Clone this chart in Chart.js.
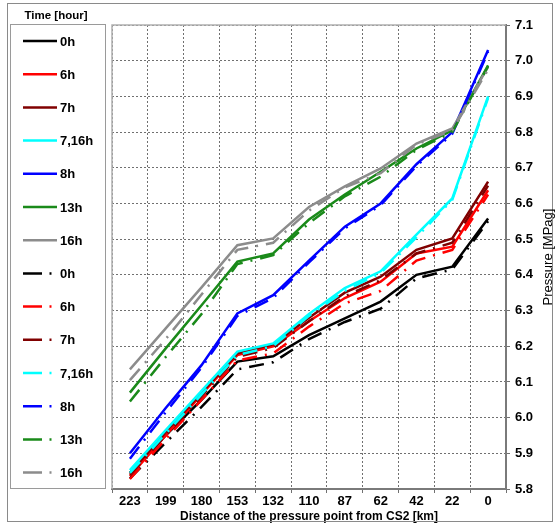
<!DOCTYPE html>
<html>
<head>
<meta charset="utf-8">
<script src="https://cdn.jsdelivr.net/npm/chart.js@4.4.1/dist/chart.umd.min.js"></script>
<style>
  html, body { margin: 0; padding: 0; background: #fff; }
  canvas { display: block; }
</style>
</head>
<body>
<canvas id="myChart" width="559" height="526"></canvas>
<script>
// Distancia desde CS2 (km) y ticks de presion
var distancias = ['223', '199', '180', '153', '132', '110', '87', '62', '42', '22', '0'];
var presionTicks = [5.8, 5.9, 6.0, 6.1, 6.2, 6.3, 6.4, 6.5, 6.6, 6.7, 6.8, 6.9, 7.0, 7.1];
var horas = ['0h', '6h', '7h', '7,16h', '8h', '13h', '16h'];
var colores = ['#000000', '#ff0000', '#800000', '#00ffff', '#0000ff', '#1a8a1a', '#8c8c8c'];

// lineas continuas
var h0   = [5.845, 5.95, 6.05, 6.157, 6.172, 6.231, 6.278, 6.325, 6.40, 6.423, 6.558];
var h6   = [5.836, 5.95, 6.065, 6.175, 6.20, 6.27, 6.335, 6.381, 6.46, 6.479, 6.637];
var h7   = [5.845, 5.96, 6.07, 6.18, 6.205, 6.28, 6.35, 6.395, 6.47, 6.502, 6.661];
var h716 = [5.853, 5.965, 6.075, 6.185, 6.208, 6.29, 6.363, 6.41, 6.513, 6.614, 6.90];
var h8   = [5.90, 6.027, 6.147, 6.292, 6.343, 6.44, 6.535, 6.60, 6.71, 6.80, 7.03];
var h13  = [6.07, 6.194, 6.315, 6.437, 6.46, 6.555, 6.625, 6.689, 6.754, 6.805, 6.987];
var h16  = [6.135, 6.25, 6.365, 6.483, 6.502, 6.59, 6.648, 6.698, 6.768, 6.81, 6.983];

// lineas punto-raya
var h0b   = [5.83, 5.93, 6.03, 6.135, 6.155, 6.22, 6.268, 6.305, 6.39, 6.415, 6.55];
var h6b   = [5.828, 5.94, 6.05, 6.16, 6.18, 6.255, 6.32, 6.355, 6.44, 6.47, 6.625];
var h7b   = [5.84, 5.95, 6.06, 6.17, 6.195, 6.27, 6.34, 6.385, 6.46, 6.49, 6.65];
var h716b = [5.845, 5.955, 6.065, 6.175, 6.20, 6.285, 6.355, 6.405, 6.505, 6.61, 6.895];
var h8b   = [5.885, 6.015, 6.14, 6.285, 6.335, 6.435, 6.53, 6.595, 6.705, 6.795, 7.025];
var h13b  = [6.045, 6.17, 6.29, 6.43, 6.455, 6.545, 6.62, 6.675, 6.75, 6.80, 6.985];
var h16b  = [6.105, 6.22, 6.345, 6.47, 6.49, 6.58, 6.645, 6.685, 6.765, 6.805, 6.975];

var solidas = [h0, h6, h7, h716, h8, h13, h16];
var punteadas = [h0b, h6b, h7b, h716b, h8b, h13b, h16b];
var puntoRaya = [15, 8, 2, 8];

var datasets = [];
solidas.forEach((serie, i) => {
  datasets.push({ label: horas[i], data: serie, borderColor: colores[i], borderDash: [] });
});
punteadas.forEach((serie, i) => {
  datasets.push({ label: horas[i], data: serie, borderColor: colores[i], borderDash: puntoRaya });
});
// las continuas encima
datasets.reverse();

var marco = {
  id: 'marco',
  afterDraw: (chart) => {
    var ctx = chart.ctx;
    var area = chart.chartArea;
    ctx.save();
    // marco exterior
    ctx.strokeStyle = '#8a8a8a';
    ctx.lineWidth = 1;
    ctx.strokeRect(7.5, 3.5, 545, 518);
    // borde del area (izq y arriba)
    ctx.strokeStyle = '#b0b0b0';
    ctx.lineWidth = 1.5;
    ctx.beginPath();
    ctx.moveTo(area.left, area.bottom);
    ctx.lineTo(area.left, area.top);
    ctx.lineTo(area.right, area.top);
    ctx.stroke();

    // titulo eje y
    ctx.fillStyle = '#000';
    ctx.font = '13px "Liberation Sans", Arial, sans-serif';
    ctx.textAlign = 'center';
    ctx.textBaseline = 'middle';
    ctx.translate(548, (area.top + area.bottom) / 2);
    ctx.rotate(-Math.PI / 2);
    ctx.fillText('Pressure [MPag]', 0, 0);
    ctx.restore();

    // leyenda
    ctx.save();
    ctx.strokeStyle = '#9a9a9a';
    ctx.lineWidth = 1;
    ctx.strokeRect(10.5, 24.5, 95, 464);
    ctx.fillStyle = '#000';
    ctx.font = 'bold 11.5px "Liberation Sans", Arial, sans-serif';
    ctx.textAlign = 'center';
    ctx.textBaseline = 'middle';
    ctx.fillText('Time [hour]', 56, 16);

    var items = chart.data.datasets.slice().reverse();
    ctx.font = 'bold 13px "Liberation Sans", Arial, sans-serif';
    ctx.textAlign = 'left';
    items.forEach((ds, i) => {
      var y = 41 + 33.2 * i;
      ctx.strokeStyle = ds.borderColor;
      ctx.lineWidth = 2.5;
      ctx.beginPath();
      if (ds.borderDash.length) {
        ctx.moveTo(23, y);
        ctx.lineTo(42, y);
        ctx.moveTo(49.5, y);
        ctx.lineTo(51.5, y);
      } else {
        ctx.moveTo(23, y);
        ctx.lineTo(57, y);
      }
      ctx.stroke();
      ctx.fillStyle = '#000';
      ctx.fillText(ds.label, 60, y + 1);
    });
    ctx.restore();
  }
};

var ctx = document.getElementById('myChart').getContext('2d');
var chart = new Chart(ctx, {
  type: 'line',
  data: {
    labels: distancias,
    datasets: datasets
  },
  options: {
    responsive: false,
    animation: false,
    layout: { padding: { left: 112, top: 25, right: 0, bottom: 0 } },
    elements: {
      line: { borderWidth: 2.5, tension: 0, fill: false },
      point: { radius: 0 }
    },
    plugins: {
      legend: { display: false },
      tooltip: { enabled: false }
    },
    scales: {
      x: {
        offset: true,
        grid: { offset: true, color: '#707070', lineWidth: 1, tickLength: 4, tickColor: '#707070' },
        border: { display: true, color: '#7a7a7a', width: 2, dash: [2, 2] },
        ticks: {
          color: '#000',
          padding: 1,
          maxRotation: 0,
          autoSkip: false,
          font: { family: '"Liberation Sans", Arial, sans-serif', size: 13, weight: 'bold' }
        },
        title: {
          display: true,
          text: 'Distance of the pressure point from CS2 [km]',
          color: '#000',
          padding: { top: 0, bottom: 2 },
          font: { family: '"Liberation Sans", Arial, sans-serif', size: 12, weight: 'bold' }
        },
        afterFit: (scale) => { scale.height = 37; }
      },
      y: {
        position: 'right',
        min: 5.8,
        max: 7.1,
        grid: { color: '#707070', lineWidth: 1, tickLength: 4, tickColor: '#707070' },
        border: { display: true, color: '#7a7a7a', width: 2, dash: [2, 2] },
        afterBuildTicks: (scale) => {
          scale.ticks = presionTicks.map((v) => ({ value: v }));
        },
        ticks: {
          color: '#000',
          padding: 5,
          callback: (v) => Number(v).toFixed(1),
          font: { family: '"Liberation Sans", Arial, sans-serif', size: 13, weight: 'bold' }
        },
        afterFit: (scale) => { scale.width = 53; }
      }
    }
  },
  plugins: [marco]
});
</script>
</body>
</html>
